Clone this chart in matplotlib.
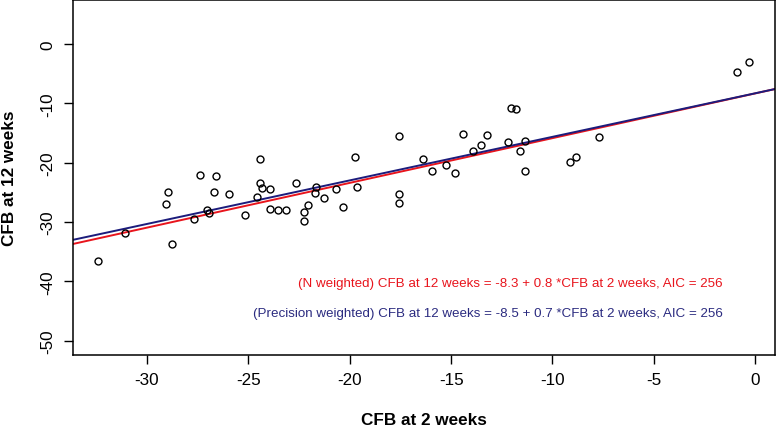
import numpy as np
import matplotlib.pyplot as plt

plt.rcParams['font.family'] = ['Liberation Sans', 'DejaVu Sans']
plt.rcParams['axes.unicode_minus'] = False

# change from baseline at 2 weeks (x) and 12 weeks (y)
cfb_2wk = [-32.40, -31.08, -29.06, -28.97, -28.78, -27.66, -27.38, -27.05, -26.94, -26.68,
           -26.58, -25.94, -25.15, -24.57, -24.44, -24.44, -24.32, -23.93, -23.93, -23.55,
           -23.14, -22.66, -22.24, -22.24, -22.03, -21.73, -21.65, -21.25, -20.66, -20.33,
           -19.72, -19.63, -17.55, -17.55, -17.55, -16.39, -15.93, -15.25, -14.82, -14.43,
           -13.92, -13.54, -13.24, -12.21, -12.07, -11.79, -11.62, -11.34, -11.34, -9.12,
           -8.83, -7.71, -0.90, -0.30]
cfb_12wk = [-36.64, -31.92, -27.03, -25.01, -33.78, -29.56, -22.04, -28.04, -28.55, -24.91,
            -22.31, -25.35, -28.89, -25.85, -19.39, -23.39, -24.28, -24.45, -27.77, -28.04,
            -28.04, -23.39, -28.28, -29.85, -27.10, -25.08, -24.11, -25.97, -24.45, -27.44,
            -19.00, -24.06, -15.46, -25.24, -26.81, -19.34, -21.42, -20.40, -21.70, -15.18,
            -18.04, -17.03, -15.40, -16.58, -10.79, -11.01, -18.04, -16.31, -21.42, -19.90,
            -19.00, -15.63, -4.67, -3.04]

# fitted lines (intercept, slope) as drawn
n_fit = (-8.33, 0.754)
prec_fit = (-8.31, 0.734)

n_label = '(N weighted) CFB at 12 weeks = -8.3 + 0.8 *CFB at 2 weeks, AIC = 256'
prec_label = '(Precision weighted) CFB at 12 weeks = -8.5 + 0.7 *CFB at 2 weeks, AIC = 256'

fig = plt.figure(figsize=(7.78, 4.27), dpi=100)
ax = fig.add_axes([73/778, 1 - 356/427, 702/778, 355/427])

ax.plot(cfb_2wk, cfb_12wk, 'o', mfc='none', mec='black', ms=5, mew=1.0, zorder=3)

xlim = (-33.64, 0.97)
xs = np.array(xlim)
ax.plot(xs, n_fit[0] + n_fit[1]*xs, color='#e8141c', lw=1.4)
ax.plot(xs, prec_fit[0] + prec_fit[1]*xs, color='#1c1c7c', lw=1.4)

ax.text(-1.6, -40.35, n_label, color='#e8141c', fontsize=9.6, ha='right', va='center')
ax.text(-1.6, -45.25, prec_label, color='#2b2b80', fontsize=9.6, ha='right', va='center')

ax.set_xlim(*xlim)
ax.set_ylim(-52.4, 7.4)
ax.set_xticks([-30, -25, -20, -15, -10, -5, 0])
ax.set_yticks([0, -10, -20, -30, -40, -50])
ax.tick_params(direction='out', length=6.5, width=1.0, labelsize=12.3, pad=6)
for lab in ax.get_yticklabels():
    lab.set_rotation(90)
    lab.set_va('center')
for s in ax.spines.values():
    s.set_linewidth(1.1)

ax.set_xlabel('CFB at 2 weeks', fontsize=12.3, fontweight='bold', labelpad=18)
ax.set_ylabel('CFB at 12 weeks', fontsize=12.3, fontweight='bold', labelpad=17)

fig.savefig('out.png', dpi=100)
